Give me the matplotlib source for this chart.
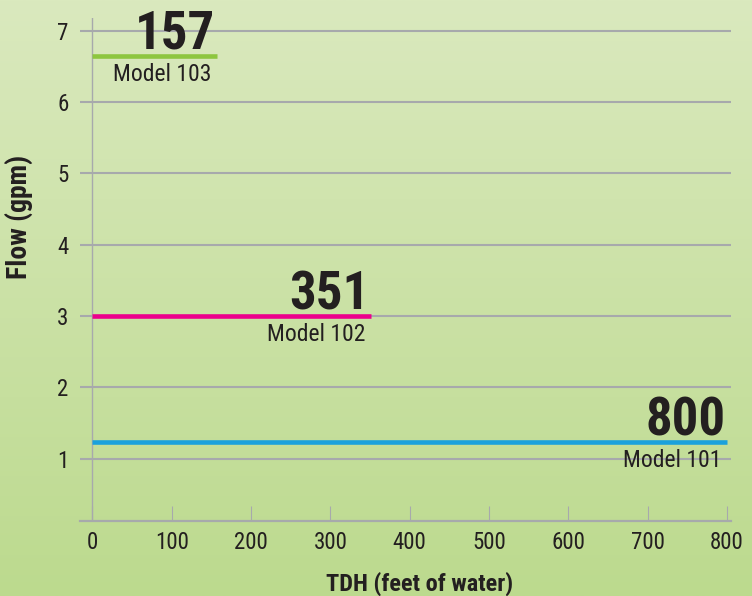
import numpy as np
import matplotlib.pyplot as plt
from matplotlib.colors import LinearSegmentedColormap

plt.rcParams['font.family'] = ['Roboto Condensed', 'DejaVu Sans']

models = ['Model 101', 'Model 102', 'Model 103']
max_tdh = [800, 351, 157]
flow = [1.23, 3.0, 6.65]
line_colors = ['#1ba1dc', '#ec008c', '#8dc63f']
x_ticks = [0, 100, 200, 300, 400, 500, 600, 700, 800]
y_ticks = [1, 2, 3, 4, 5, 6, 7]

ink = '#231f20'
grid_c = '#a7a9ac'

fig = plt.figure(figsize=(7.52, 5.96), dpi=100)

# gradient background
bg = fig.add_axes([0, 0, 1, 1], zorder=-10)
cmap = LinearSegmentedColormap.from_list('bg', ['#bcda8e', '#dae9be'])
bg.imshow(np.linspace(0, 1, 256).reshape(-1, 1), aspect='auto', cmap=cmap,
          origin='lower', extent=[0, 1, 0, 1])
bg.axis('off')

ax = fig.add_axes([0.106, 0.126, 0.866, 0.844])
ax.patch.set_alpha(0)
ax.set_xlim(-16, 805)
ax.set_ylim(0.13, 7.18)

for s in ['top', 'right', 'left']:
    ax.spines[s].set_visible(False)
ax.spines['bottom'].set_color(grid_c)
ax.spines['bottom'].set_linewidth(1.6)

for y in y_ticks:
    ax.axhline(y, color=grid_c, lw=1.5, zorder=1)
ax.axvline(0, color=grid_c, lw=1.0, zorder=1)

ax.set_xticks(x_ticks)
ax.set_yticks(y_ticks)
ax.tick_params(axis='x', direction='in', length=11, width=0.8, color=grid_c,
               labelsize=16.5, labelcolor=ink, pad=7)
ax.tick_params(axis='y', length=0, labelsize=16.5, labelcolor=ink, pad=8)

for m, t, f, c in zip(models, max_tdh, flow, line_colors):
    ax.plot([0, t], [f, f], color=c, lw=3.3, solid_capstyle='butt', zorder=3)
    ax.annotate(str(t), (t, f), xytext=(-1, 5), textcoords='offset points',
                ha='right', va='baseline', fontsize=38, fontweight='bold',
                color=ink, zorder=4)
    ax.annotate(m, (t, f), xytext=(-4, -18), textcoords='offset points',
                ha='right', va='baseline', fontsize=17, color=ink, zorder=4)

ax.set_xlabel('TDH (feet of water)', fontsize=17.5, fontweight='bold',
              color=ink)
ax.xaxis.set_label_coords(0.5226, -0.101)
ax.set_ylabel('Flow (gpm)', fontsize=20, fontweight='bold', color=ink)
ax.yaxis.set_label_coords(-0.072, 0.604)

fig.savefig('out.png', dpi=100)
